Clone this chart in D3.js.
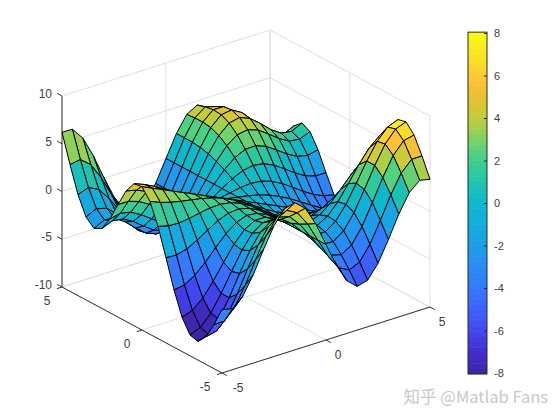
<!DOCTYPE html>
<html>
<head>
<meta charset="utf-8">
<script src="https://cdn.jsdelivr.net/npm/d3@7"></script>
<style>
html,body{margin:0;padding:0;background:#fff;}
svg{display:block;}
text{font-family:"Liberation Sans",Arial,sans-serif;}
</style>
</head>
<body>
<svg id="chart" width="560" height="420"></svg>
<script>
var xValues = [-5,-4.5,-4,-3.5,-3,-2.5,-2,-1.5,-1,-0.5,0,0.5,1,1.5,2,2.5,3,3.5,4,4.5,5];
var yValues = [-5,-4.5,-4,-3.5,-3,-2.5,-2,-1.5,-1,-0.5,0,0.5,1,1.5,2,2.5,3,3.5,4,4.5,5];

// one row per y value, one column per x value
var zValues = [
	[-3.37,-3.61,-2.65,-0.76,1.56,3.70,5.12,5.42,4.49,2.54,0,-2.54,-4.49,-5.42,-5.12,-3.70,-1.56,0.76,2.65,3.61,3.37],
	[-5.37,-5.35,-4.25,-2.32,0.01,2.16,3.67,4.17,3.58,2.05,0,-2.05,-3.58,-4.17,-3.67,-2.16,-0.01,2.32,4.25,5.35,5.37],
	[-7.11,-6.85,-5.64,-3.69,-1.40,0.76,2.33,3.01,2.72,1.59,0,-1.59,-2.72,-3.01,-2.33,-0.76,1.40,3.69,5.64,6.85,7.11],
	[-8.04,-7.63,-6.40,-4.51,-2.32,-0.25,1.31,2.09,2.01,1.21,0,-1.21,-2.01,-2.09,-1.31,0.25,2.32,4.51,6.40,7.63,8.04],
	[-7.83,-7.38,-6.23,-4.51,-2.55,-0.67,0.75,1.51,1.53,0.94,0,-0.94,-1.53,-1.51,-0.75,0.67,2.55,4.51,6.23,7.38,7.83],
	[-6.41,-6.04,-5.09,-3.68,-2.05,-0.50,0.67,1.29,1.30,0.80,0,-0.80,-1.30,-1.29,-0.67,0.50,2.05,3.68,5.09,6.04,6.41],
	[-4.00,-3.83,-3.17,-2.16,-0.97,0.16,0.99,1.38,1.26,0.75,0,-0.75,-1.26,-1.38,-0.99,-0.16,0.97,2.16,3.17,3.83,4.00],
	[-1.09,-1.15,-0.86,-0.28,0.42,1.08,1.50,1.61,1.33,0.76,0,-0.76,-1.33,-1.61,-1.50,-1.08,-0.42,0.28,0.86,1.15,1.09],
	[1.74,1.45,1.40,1.54,1.76,1.95,1.99,1.81,1.38,0.75,0,-0.75,-1.38,-1.81,-1.99,-1.95,-1.76,-1.54,-1.40,-1.45,-1.74],
	[3.91,3.46,3.13,2.89,2.70,2.49,2.21,1.82,1.30,0.68,0,-0.68,-1.30,-1.82,-2.21,-2.49,-2.70,-2.89,-3.13,-3.46,-3.91],
	[5,4.5,4,3.5,3,2.5,2,1.5,1,0.5,0,-0.5,-1,-1.5,-2,-2.5,-3,-3.5,-4,-4.5,-5],
	[4.87,4.44,3.89,3.25,2.56,1.89,1.31,0.82,0.46,0.20,0,-0.20,-0.46,-0.82,-1.31,-1.89,-2.56,-3.25,-3.89,-4.44,-4.87],
	[3.66,3.41,2.92,2.24,1.48,0.75,0.17,-0.19,-0.30,-0.21,0,0.21,0.30,0.19,-0.17,-0.75,-1.48,-2.24,-2.92,-3.41,-3.66],
	[1.79,1.79,1.42,0.78,0,-0.72,-1.22,-1.39,-1.19,-0.68,0,0.68,1.19,1.39,1.22,0.72,0,-0.78,-1.42,-1.79,-1.79],
	[-0.16,0.09,-0.15,-0.76,-1.53,-2.24,-2.65,-2.62,-2.10,-1.17,0,1.17,2.10,2.62,2.65,2.24,1.53,0.76,0.15,-0.09,0.16],
	[-1.61,-1.16,-1.31,-1.92,-2.75,-3.50,-3.87,-3.69,-2.90,-1.60,0,1.60,2.90,3.69,3.87,3.50,2.75,1.92,1.31,1.16,1.61],
	[-2.07,-1.52,-1.69,-2.41,-3.39,-4.27,-4.71,-4.47,-3.51,-1.94,0,1.94,3.51,4.47,4.71,4.27,3.39,2.41,1.69,1.52,2.07],
	[-1.32,-0.79,-1.10,-2.05,-3.30,-4.43,-5.05,-4.89,-3.89,-2.15,0,2.15,3.89,4.89,5.05,4.43,3.30,2.05,1.10,0.79,1.32],
	[0.57,0.97,0.42,-0.89,-2.52,-4.02,-4.95,-4.97,-4.02,-2.25,0,2.25,4.02,4.97,4.95,4.02,2.52,0.89,-0.42,-0.97,-0.57],
	[3.27,3.45,2.57,0.84,-1.27,-3.22,-4.51,-4.81,-4.00,-2.27,0,2.27,4.00,4.81,4.51,3.22,1.27,-0.84,-2.57,-3.45,-3.27],
	[6.21,6.17,4.91,2.74,0.14,-2.28,-3.98,-4.56,-3.93,-2.26,0,2.26,3.93,4.56,3.98,2.28,-0.14,-2.74,-4.91,-6.17,-6.21]
];

var xTicks = [-5,0,5];
var yTicks = [-5,0,5];
var zTicks = [-10,-5,0,5,10];
var barTicks = [-8,-6,-4,-2,0,2,4,6,8];

var colorValues = [-8,-7,-6,-5,-4,-3,-2,-1,0,1,2,3,4,5,5.6,6,7,8];
var colorStops = ["#3c25a6","#3f2fcc","#4148f0","#3d62fb","#3478ff","#2a8cf5","#1c9ee8","#12aede","#0cb8cc","#22c4aa","#3ed08c","#7cd264","#c4cc3a","#e8c232","#ffbe38","#fecb32","#f8e322","#f9fb15"];

var color = d3.scaleLinear().domain(colorValues).range(colorStops).clamp(true);

var svg = d3.select("#chart");
var originX = 222, originY = 373;

// three scales give the screen offset of each data axis from the front corner
var xToPx = d3.scaleLinear().domain([-5,5]).range([0,208]);
var xToPy = d3.scaleLinear().domain([-5,5]).range([0,-66]);
var yToPx = d3.scaleLinear().domain([-5,5]).range([0,-160]);
var yToPy = d3.scaleLinear().domain([-5,5]).range([0,-86]);
var zToPy = d3.scaleLinear().domain([-10,10]).range([0,-191]);

function project(x, y, z){
	return [originX + xToPx(x) + yToPx(y), originY + xToPy(x) + yToPy(y) + zToPy(z)];
}

var segment = d3.line();

function drawLine(g, a, b, col, w){
	g.append("path")
		.attr("d", segment([project(a[0],a[1],a[2]), project(b[0],b[1],b[2])]))
		.attr("fill","none")
		.attr("stroke",col)
		.attr("stroke-width",w);
}

// back walls and floor grid
var grid = svg.append("g");
var gridColor = "#dfdfdf";
for(let z of zTicks){
	drawLine(grid, [-5,5,z], [5,5,z], gridColor, 1);
	drawLine(grid, [5,5,z], [5,-5,z], gridColor, 1);
}
for(let x of xTicks){
	drawLine(grid, [x,5,-10], [x,5,10], gridColor, 1);
	drawLine(grid, [x,-5,-10], [x,5,-10], gridColor, 1);
}
for(let y of yTicks){
	drawLine(grid, [5,y,-10], [5,y,10], gridColor, 1);
	drawLine(grid, [-5,y,-10], [5,y,-10], gridColor, 1);
}

// axis lines with ticks
var axes = svg.append("g");
var axisColor = "#333333";
drawLine(axes, [-5,5,-10], [-5,5,10], axisColor, 1);
drawLine(axes, [-5,5,-10], [-5,-5,-10], axisColor, 1);
drawLine(axes, [-5,-5,-10], [5,-5,-10], axisColor, 1);
for(let z of zTicks){
	drawLine(axes, [-5,5,z], [-5,5.3,z], axisColor, 1);
}
for(let y of yTicks){
	drawLine(axes, [-5,y,-10], [-5.25,y,-10], axisColor, 1);
}
for(let x of xTicks){
	drawLine(axes, [x,-5,-10], [x,-5.3,-10], axisColor, 1);
}

var labels = svg.append("g")
	.attr("font-size",12)
	.attr("fill","#404040");
for(let z of zTicks){
	let p = project(-5,5,z);
	labels.append("text").attr("x",p[0]-10).attr("y",p[1]+2).attr("text-anchor","end").text(z);
}
for(let y of yTicks){
	let p = project(-5,y,-10);
	labels.append("text").attr("x",p[0] - (y < 0 ? 17 : 15)).attr("y",p[1]+18).attr("text-anchor","middle").text(y);
}
for(let x of xTicks){
	let p = project(x,-5,-10);
	labels.append("text").attr("x",p[0] + (x < 0 ? 16 : 12)).attr("y",p[1]+19).attr("text-anchor","middle").text(x);
}

// surface, painted from the far corner to the near corner
var surface = svg.append("g");
for(let j = yValues.length - 2; j >= 0; j--){
	for(let i = xValues.length - 2; i >= 0; i--){
		let corners = [
			project(xValues[i],yValues[j],zValues[j][i]),
			project(xValues[i+1],yValues[j],zValues[j][i+1]),
			project(xValues[i+1],yValues[j+1],zValues[j+1][i+1]),
			project(xValues[i],yValues[j+1],zValues[j+1][i])
		];
		surface.append("polygon")
			.attr("points",corners.join(" "))
			.attr("fill",color(zValues[j][i]))
			.attr("stroke","#000000")
			.attr("stroke-width",1)
			.attr("stroke-linejoin","round");
	}
}

// colorbar
var barLeft = 468, barRight = 487;
var barScale = d3.scaleLinear().domain([-8,8]).range([373,33]);
var bar = svg.append("g");
var barSteps = d3.range(-8.04,8.04,16.08/64);
bar.selectAll("rect")
	.data(barSteps)
	.enter()
	.append("rect")
	.attr("x",barLeft)
	.attr("width",barRight-barLeft)
	.attr("y",function(d){ return barScale(d + 16.08/64); })
	.attr("height",function(d){ return barScale(d) - barScale(d + 16.08/64) + 0.5; })
	.attr("fill",function(d){ return color(d + 8.04/64); });
bar.append("rect")
	.attr("x",barLeft).attr("y",barScale(8.04))
	.attr("width",barRight-barLeft).attr("height",barScale(-8.04)-barScale(8.04))
	.attr("fill","none").attr("stroke","#2a2a2a").attr("stroke-width",1);

var barAxis = d3.axisRight(barScale).tickValues(barTicks).tickFormat(String).tickSize(-3).tickPadding(7);
var barG = svg.append("g")
	.attr("transform","translate(" + barRight + ",0)")
	.call(barAxis);
barG.select(".domain").remove();
barG.selectAll("line").attr("stroke","#2a2a2a");
barG.selectAll("text")
	.attr("font-family",'"Liberation Sans",Arial,sans-serif')
	.attr("font-size",11)
	.attr("fill","#404040");

// watermark
svg.append("text")
	.attr("x",548).attr("y",403)
	.attr("text-anchor","end")
	.attr("font-size",16.5)
	.attr("fill","#c8c8c8")
	.style("font-family",'"Noto Sans CJK SC","Liberation Sans",sans-serif')
	.text("知乎 @Matlab Fans");
</script>
</body>
</html>
